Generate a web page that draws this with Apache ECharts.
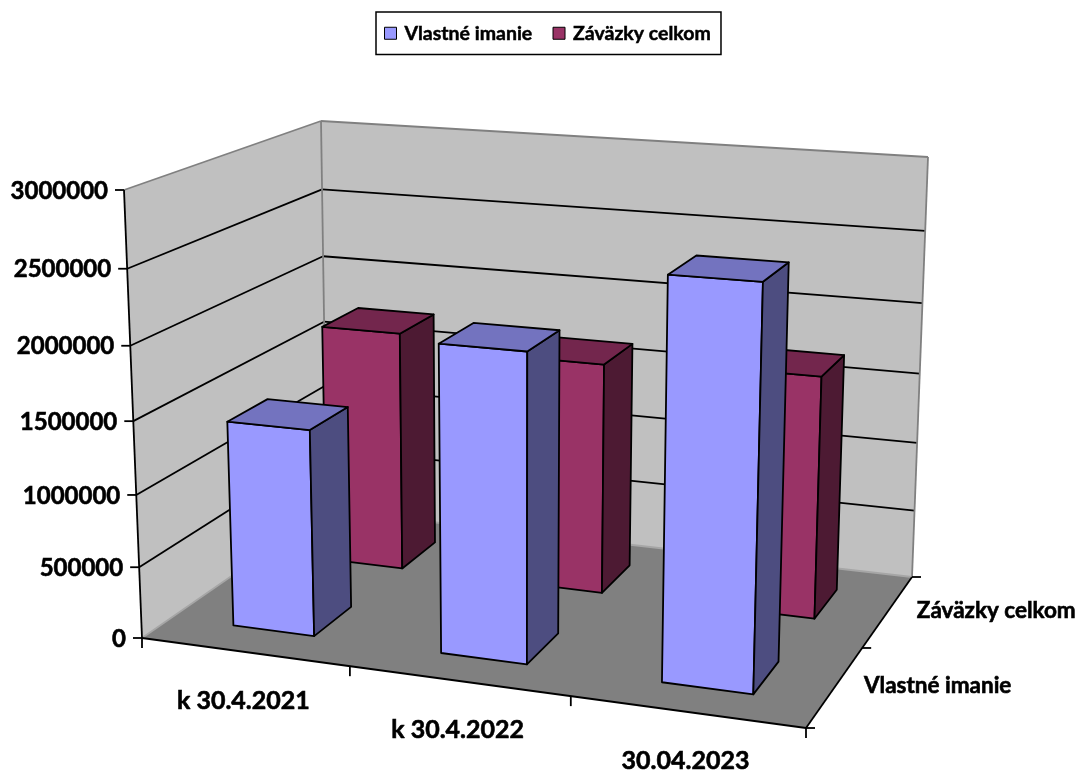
<!DOCTYPE html>
<html>
<head>
<meta charset="utf-8">
<title>Vlastné imanie a záväzky</title>
<style>
  html, body { margin: 0; padding: 0; background: #fff; }
  #chart { width: 1079px; height: 773px; }
</style>
</head>
<body>
<div id="chart"></div>
<script src="https://cdn.jsdelivr.net/npm/echarts@6/dist/echarts.min.js"></script>
<script>
// data
const categories = ['k 30.4.2021', 'k 30.4.2022', '30.04.2023']
const depthNames = ['Vlastné imanie', 'Záväzky celkom']
const vlastneImanie = [1430000, 2080000, 2630000]
const zavazkyCelkom = [1740000, 1650000, 1700000]
const valueTicks = [0, 500000, 1000000, 1500000, 2000000, 2500000, 3000000]

// the 3d box on screen: corners as [x, y]. f = front, b = back, l/r, d = floor, u = top
const BOX = {
  fld: [142, 638], frd: [806, 728], bld: [327, 510], brd: [912, 577],
  flu: [124, 190], fru: [820, 238], blu: [321, 121], bru: [928, 157]
}
// perspective foreshortening along each axis
const WARP_X = 1.097
const WARP_Y = 0.887
const WARP_Z = 1.066
const BAR_LEFT = 0.064
const BAR_RIGHT = 0.068
const BAR_HALF_D = 0.104
// back row sits a touch to the right
const ROW_SHIFT = [0, 0.004]

const VALUE_FONT = 'bold 24px Lato'
const CATEGORY_FONT = 'bold 25px Lato'
const DEPTH_FONT = 'bold 22.5px Lato'
const LINE = '#000'
const EDGE = '#808080'
const LW = 1.8

function warp(t, k) {
  return t / (t + k * (1 - t))
}

function lerp(a, b, t) {
  return [a[0] + (b[0] - a[0]) * t, a[1] + (b[1] - a[1]) * t]
}

// screen point of a box position, all three in 0..1 before warping
function project(tx, ty, tz) {
  const x = warp(tx, WARP_X)
  const y = warp(ty, WARP_Y)
  const z = warp(tz, WARP_Z)
  const down = lerp(lerp(BOX.fld, BOX.frd, x), lerp(BOX.bld, BOX.brd, x), y)
  const up = lerp(lerp(BOX.flu, BOX.fru, x), lerp(BOX.blu, BOX.bru, x), y)
  return lerp(down, up, z)
}

// fractions from the hidden cartesian axes
function fracX(params, api, i) {
  const cs = params.coordSys
  return (api.coord([i, 0])[0] - cs.x) / cs.width
}

function fracZ(params, api, v) {
  const cs = params.coordSys
  return (cs.y + cs.height - api.coord([0, v])[1]) / cs.height
}

function poly(points, fill, stroke, width) {
  return {
    type: 'polygon',
    shape: { points: points },
    style: { fill: fill, stroke: stroke || null, lineWidth: width || 0, lineJoin: 'round' }
  }
}

function line(a, b, color, width) {
  return {
    type: 'line',
    shape: { x1: a[0], y1: a[1], x2: b[0], y2: b[1] },
    style: { stroke: color, lineWidth: width, fill: null }
  }
}

// thin stroke on the text, Lato bold is lighter than the original face
function label(text, x, y, align, font) {
  return {
    type: 'text',
    style: {
      text: text, x: x, y: y, align: align, verticalAlign: 'middle', font: font,
      fill: '#000', stroke: '#000', lineWidth: 0.6
    }
  }
}

function renderFrame(params, api) {
  const kids = []
  const p = project

  // walls and floor
  kids.push(poly([p(0, 0, 0), p(0, 1, 0), p(0, 1, 1), p(0, 0, 1)], '#c0c0c0'))
  kids.push(poly([p(0, 1, 0), p(1, 1, 0), p(1, 1, 1), p(0, 1, 1)], '#c0c0c0'))
  kids.push(poly([p(0, 0, 0), p(1, 0, 0), p(1, 1, 0), p(0, 1, 0)], '#808080'))

  // gridlines on both walls
  valueTicks.forEach(function (v) {
    const tz = fracZ(params, api, v)
    if (v > 0 && v < valueTicks[valueTicks.length - 1]) {
      kids.push(line(p(0, 0, tz), p(0, 1, tz), LINE, LW))
      kids.push(line(p(0, 1, tz), p(1, 1, tz), LINE, LW))
    }
  })

  // wall edges
  kids.push(line(p(0, 0, 1), p(0, 1, 1), EDGE, LW))
  kids.push(line(p(0, 1, 1), p(1, 1, 1), EDGE, LW))
  kids.push(line(p(0, 1, 0), p(0, 1, 1), EDGE, LW))
  kids.push(line(p(1, 1, 0), p(1, 1, 1), EDGE, LW))
  kids.push(line(p(0, 1, 0), p(1, 1, 0), '#a6a6a6', LW))
  kids.push(line(p(0, 0, 0), p(0, 1, 0), '#a6a6a6', LW))

  // axis lines
  kids.push(line(p(0, 0, 0), p(0, 0, 1), LINE, LW))
  kids.push(line(p(0, 0, 0), p(1, 0, 0), LINE, LW))
  kids.push(line(p(1, 0, 0), p(1, 1, 0), LINE, LW))

  // value axis ticks and labels
  valueTicks.forEach(function (v) {
    const a = p(0, 0, fracZ(params, api, v))
    kids.push(line(a, [a[0] - 9, a[1]], LINE, LW))
    kids.push(label(String(v), a[0] - 16, a[1] + 1, 'right', VALUE_FONT))
  })

  // category ticks, one more than there are categories
  for (let i = 0; i <= categories.length; i++) {
    const a = p(i / categories.length, 0, 0)
    kids.push(line(a, [a[0], a[1] + 10], LINE, LW))
  }
  categories.forEach(function (name, i) {
    const a = p(fracX(params, api, i), 0, 0)
    kids.push(label(name, a[0] - 1, a[1] + 49, 'center', CATEGORY_FONT))
  })

  // depth ticks and labels
  for (let i = 0; i <= depthNames.length; i++) {
    const a = p(1, i / depthNames.length, 0)
    kids.push(line(a, [a[0] + 9, a[1]], LINE, LW))
  }
  depthNames.forEach(function (name, i) {
    const a = p(1, (i + 0.5) / depthNames.length, 0)
    kids.push(label(name, a[0] + 29, a[1] - 1, 'left', DEPTH_FONT))
  })

  return { type: 'group', children: kids }
}

function barRenderer(depthIndex, colors) {
  return function (params, api) {
    const cx = fracX(params, api, api.value(0)) + ROW_SHIFT[depthIndex]
    const tz = fracZ(params, api, api.value(1))
    const cy = (depthIndex + 0.5) / depthNames.length
    const x0 = cx - BAR_LEFT
    const x1 = cx + BAR_RIGHT
    const y0 = cy - BAR_HALF_D
    const y1 = cy + BAR_HALF_D
    const p = project
    return {
      type: 'group',
      children: [
        poly([p(x0, y0, 0), p(x1, y0, 0), p(x1, y0, tz), p(x0, y0, tz)], colors[0], LINE, LW),
        poly([p(x1, y0, 0), p(x1, y1, 0), p(x1, y1, tz), p(x1, y0, tz)], colors[1], LINE, LW),
        poly([p(x0, y0, tz), p(x1, y0, tz), p(x1, y1, tz), p(x0, y1, tz)], colors[2], LINE, LW)
      ]
    }
  }
}

function barData(values) {
  return values.map(function (v, i) { return [i, v] })
}

const chart = echarts.init(document.getElementById('chart'))
chart.setOption({
  animation: false,
  backgroundColor: '#fff',
  legend: {
    data: depthNames,
    left: 376,
    top: 12,
    itemWidth: 12,
    itemHeight: 12,
    itemGap: 20,
    padding: [11, 10, 11, 8],
    orient: 'horizontal',
    backgroundColor: '#fff',
    borderColor: '#000',
    borderWidth: 1.5,
    borderRadius: 0,
    selectedMode: false,
    icon: 'rect',
    textStyle: {
      fontFamily: 'Lato', fontWeight: 'bold', fontSize: 19.5, color: '#000',
      padding: [0, 0, 0, 3], textBorderColor: '#000', textBorderWidth: 0.5
    },
    itemStyle: { borderColor: '#000', borderWidth: 1 }
  },
  grid: { left: 0, right: 0, top: 0, bottom: 0 },
  xAxis: { type: 'category', data: categories, show: false },
  yAxis: { type: 'value', min: 0, max: 3000000, interval: 500000, show: false },
  series: [
    {
      type: 'custom',
      name: 'frame',
      silent: true,
      clip: false,
      renderItem: renderFrame,
      data: [[0, 0]]
    },
    {
      type: 'custom',
      name: depthNames[1],
      clip: false,
      itemStyle: { color: '#993366' },
      renderItem: barRenderer(1, ['#993366', '#4d1a33', '#73264d']),
      encode: { x: 0, y: 1 },
      data: barData(zavazkyCelkom)
    },
    {
      type: 'custom',
      name: depthNames[0],
      clip: false,
      itemStyle: { color: '#9999ff' },
      renderItem: barRenderer(0, ['#9999ff', '#4d4d80', '#7373bf']),
      encode: { x: 0, y: 1 },
      data: barData(vlastneImanie)
    }
  ]
})

window.addEventListener('resize', function () {
  chart.resize()
})
</script>
</body>
</html>
